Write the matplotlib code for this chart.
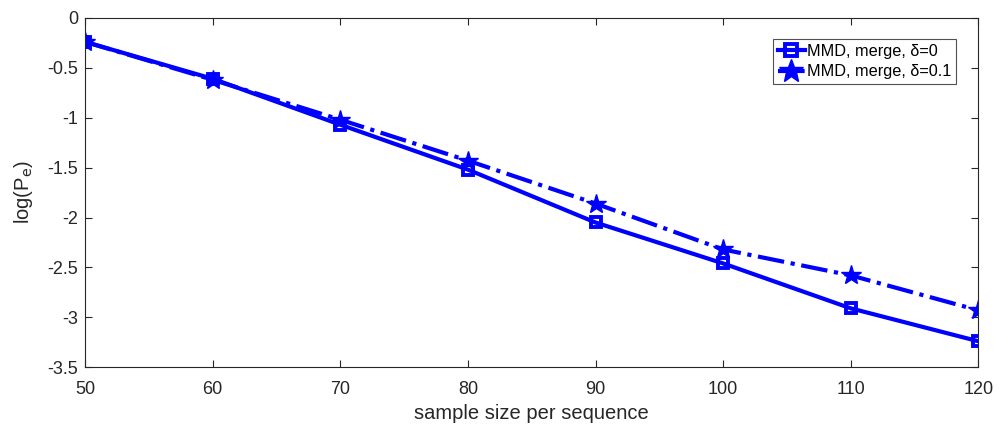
import numpy as np
import matplotlib
matplotlib.use('Agg')
import matplotlib.pyplot as plt

plt.rcParams['font.family'] = ['Liberation Sans', 'DejaVu Sans']

# data
sample_size = [50, 60, 70, 80, 90, 100, 110, 120]
pe_delta0 = [-0.24, -0.61, -1.07, -1.52, -2.05, -2.46, -2.91, -3.24]
pe_delta01 = [-0.24, -0.62, -1.02, -1.43, -1.86, -2.32, -2.58, -2.93]
xticks = [50, 60, 70, 80, 90, 100, 110, 120]
yticks = [0, -0.5, -1, -1.5, -2, -2.5, -3, -3.5]

fig = plt.figure(figsize=(9.97, 4.26), dpi=100)
ax = fig.add_axes([0.0853, 0.138, 0.896, 0.82])

ax.plot(sample_size, pe_delta0, '-s', color='#0000ff', lw=3, ms=7,
        mfc='none', mew=2.8, label='MMD, merge, δ=0')
ax.plot(sample_size, pe_delta01, '-.*', color='#0000ff', lw=3, ms=15,
        label='MMD, merge, δ=0.1')

ax.set_xlim(50, 120)
ax.set_ylim(-3.5, 0)
ax.set_xticks(xticks)
ax.set_yticks(yticks)
ax.set_yticklabels(['0', '-0.5', '-1', '-1.5', '-2', '-2.5', '-3', '-3.5'])
ax.tick_params(direction='in', top=True, right=True, length=5, width=0.8,
               colors='#262626', labelsize=13, labelcolor='#262626')
ax.tick_params(axis='x', pad=10)
ax.tick_params(axis='y', pad=5)
for s in ax.spines.values():
    s.set_color('#262626')
    s.set_linewidth(0.8)

ax.set_xlabel('sample size per sequence', fontsize=14.5, color='#262626',
              labelpad=4)
ax.set_ylabel(r'log(P$_\mathrm{e}$)', fontsize=14.5, color='#262626',
              labelpad=9)

leg = ax.legend(loc='upper right', bbox_to_anchor=(0.975, 0.94), fontsize=11.7,
                frameon=True, fancybox=False, handlelength=1.7,
                handletextpad=0.1, borderpad=0.3, labelspacing=0.35,
                borderaxespad=0, markerscale=1.2)
leg.get_frame().set_edgecolor('#262626')
leg.get_frame().set_linewidth(0.8)

fig.savefig('out.png', dpi=100)
